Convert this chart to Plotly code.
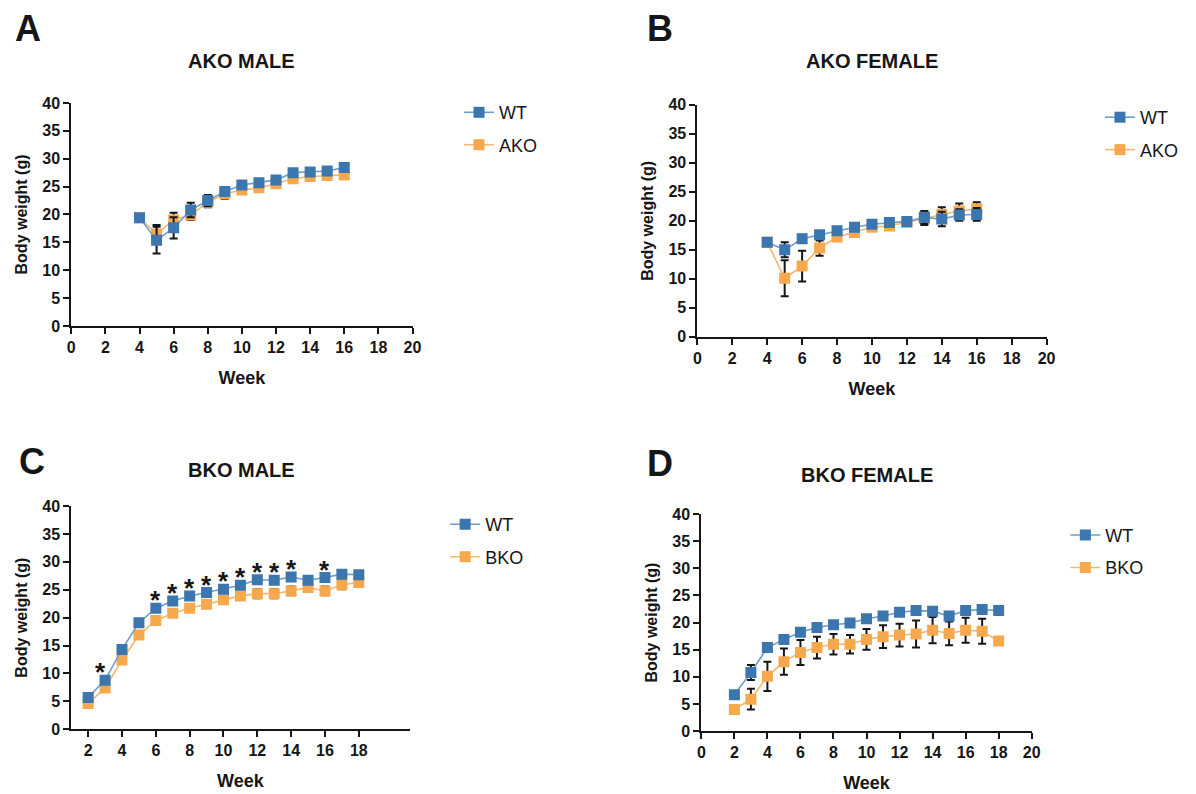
import plotly.graph_objects as go

W, H = 1196, 794

# ---------------- data ----------------
weeks_A = [4, 5, 6, 7, 8, 9, 10, 11, 12, 13, 14, 15, 16]
ako_male_wt = [19.4, 15.4, 17.6, 20.8, 22.5, 24.1, 25.3, 25.7, 26.2, 27.5, 27.6, 27.8, 28.4]
ako_male_wt_err = [0.0, 2.4, 1.9, 1.3, 1.0, 0.4, 0.3, 0.3, 0.3, 0.3, 0.3, 0.3, 0.3]
ako_male_ko = [19.4, 16.5, 19.0, 19.9, 22.2, 23.7, 24.4, 24.8, 25.5, 26.4, 26.8, 27.0, 27.1]
ako_male_ko_err = [0.0, 1.6, 1.3, 0.9, 0.9, 0.9, 0.6, 0.3, 0.3, 0.3, 0.3, 0.3, 0.3]

weeks_B = [4, 5, 6, 7, 8, 9, 10, 11, 12, 13, 14, 15, 16]
ako_fem_wt = [16.3, 15.0, 16.9, 17.6, 18.3, 18.9, 19.4, 19.7, 19.9, 20.6, 20.3, 21.0, 21.1]
ako_fem_wt_err = [0.0, 1.3, 0.7, 0.5, 0.4, 0.4, 0.4, 0.4, 0.7, 1.1, 1.25, 1.0, 1.1]
ako_fem_ko = [16.3, 10.1, 12.2, 15.3, 17.2, 18.0, 18.9, 19.1, 19.7, 20.4, 21.1, 21.7, 22.1]
ako_fem_ko_err = [0.0, 3.1, 2.65, 1.3, 0.5, 0.4, 0.4, 0.4, 0.7, 1.1, 1.25, 1.3, 1.1]

weeks_C = [2, 3, 4, 5, 6, 7, 8, 9, 10, 11, 12, 13, 14, 15, 16, 17, 18]
bko_male_wt = [5.7, 8.8, 14.3, 19.1, 21.7, 23.0, 23.9, 24.5, 25.1, 25.8, 26.8, 26.7, 27.3, 26.7, 27.2, 27.8, 27.7]
bko_male_wt_err = [0.3, 0.4, 0.4, 0.5, 0.4, 0.4, 0.4, 0.4, 0.4, 0.4, 0.4, 0.4, 0.4, 0.4, 0.4, 0.4, 0.4]
bko_male_ko = [4.6, 7.4, 12.4, 16.9, 19.5, 20.8, 21.7, 22.4, 23.2, 23.9, 24.3, 24.3, 24.8, 25.4, 24.8, 25.9, 26.3]
bko_male_ko_err = [0.3, 0.4, 0.4, 0.6, 0.4, 0.4, 0.5, 0.6, 0.6, 0.6, 0.8, 0.8, 0.8, 0.4, 0.8, 0.8, 0.4]
sig_weeks_C = [3, 6, 7, 8, 9, 10, 11, 12, 13, 14, 16]

weeks_D = [2, 3, 4, 5, 6, 7, 8, 9, 10, 11, 12, 13, 14, 15, 16, 17, 18]
bko_fem_wt = [6.7, 10.8, 15.4, 16.9, 18.2, 19.1, 19.6, 19.9, 20.7, 21.2, 21.9, 22.2, 22.1, 21.2, 22.2, 22.4, 22.2]
bko_fem_wt_err = [0.3, 1.4, 0.4, 0.3, 0.3, 0.3, 0.3, 0.3, 0.3, 0.3, 0.3, 0.3, 0.3, 0.3, 0.3, 0.3, 0.0]
bko_fem_ko = [4.0, 5.9, 10.1, 12.8, 14.5, 15.4, 16.0, 16.0, 16.9, 17.4, 17.7, 17.9, 18.6, 18.0, 18.6, 18.4, 16.6]
bko_fem_ko_err = [0.8, 1.9, 2.7, 2.4, 2.3, 2.0, 1.9, 1.7, 1.9, 2.1, 2.1, 2.5, 2.4, 2.2, 2.3, 2.3, 0.0]

panel_titles = ["AKO MALE", "AKO FEMALE", "BKO MALE", "BKO FEMALE"]
panel_letters = ["A", "B", "C", "D"]

# ---------------- style ----------------
FONT = "Liberation Sans, Arial, Helvetica, sans-serif"
INK = "#161616"
BLUE_M, BLUE_L = "#3b76af", "#6f9dcb"
ORNG_M, ORNG_L = "#f5a94c", "#f6b771"


def px_x(p):
    return p / W


def px_y(p):
    return 1 - p / H


fig = go.Figure()

panels = [
    ("", weeks_A, ako_male_wt, ako_male_wt_err, ako_male_ko, ako_male_ko_err, "AKO", "legend"),
    ("2", weeks_B, ako_fem_wt, ako_fem_wt_err, ako_fem_ko, ako_fem_ko_err, "AKO", "legend2"),
    ("3", weeks_C, bko_male_wt, bko_male_wt_err, bko_male_ko, bko_male_ko_err, "BKO", "legend3"),
    ("4", weeks_D, bko_fem_wt, bko_fem_wt_err, bko_fem_ko, bko_fem_ko_err, "BKO", "legend4"),
]

for i, (s, wk, wt, wte, ko, koe, kname, lg) in enumerate(panels):
    err_style = dict(type="data", color=INK, thickness=2, width=4)
    fig.add_trace(go.Scatter(
        x=wk, y=ko, name=kname, mode="lines+markers",
        xaxis="x" + s, yaxis="y" + s, legend=lg, legendgroup=f"ko{i}", legendrank=2,
        line=dict(color=ORNG_L, width=1.6),
        marker=dict(symbol="square", size=11, color=ORNG_M),
        error_y=dict(array=koe, **err_style),
    ))
    fig.add_trace(go.Scatter(
        x=wk, y=wt, name="WT", mode="lines+markers",
        xaxis="x" + s, yaxis="y" + s, legend=lg, legendgroup=f"wt{i}", legendrank=1,
        line=dict(color=BLUE_L, width=1.6),
        marker=dict(symbol="square", size=11, color=BLUE_M),
        error_y=dict(array=wte, **err_style),
    ))

# ---------------- axes ----------------
tickfont = dict(family=FONT, size=16, color=INK, weight="bold")
common = dict(showline=True, linewidth=2, linecolor=INK, ticks="outside", ticklen=6,
              tickwidth=2, tickcolor=INK, tickfont=tickfont, showgrid=False,
              zeroline=False, fixedrange=True)

boxes = [(68, 413, 97, 325), (701, 1054, 99, 336), (68, 410, 509, 737), (705, 1039, 517, 739)]
xranges = [[0, 20], [0, 20], [1, 21], [0, 20]]
xticks = [list(range(0, 21, 2)), list(range(0, 21, 2)), list(range(2, 19, 2)), list(range(0, 21, 2))]

for i, (l, r, t, b) in enumerate(boxes):
    s = "" if i == 0 else str(i + 1)
    fig.update_layout(**{
        "xaxis" + s: dict(common, domain=[px_x(l), px_x(r)], range=xranges[i],
                          tickvals=xticks[i], anchor="y" + s,
                          title=dict(text="Week", font=dict(family=FONT, size=18, color=INK, weight="bold"), standoff=16)),
        "yaxis" + s: dict(common, domain=[px_y(b), px_y(t)], range=[0, 40], dtick=5,
                          anchor="x" + s,
                          title=dict(text="Body weight (g)", font=dict(family=FONT, size=16, color=INK, weight="bold"), standoff=11)),
    })

# ---------------- legends ----------------
leg_pos = [(460, 88), (1108, 93), (446, 509), (1073, 520)]
for i, (lx, ly) in enumerate(leg_pos):
    name = "legend" if i == 0 else f"legend{i + 1}"
    fig.update_layout(**{name: dict(
        x=px_x(lx), y=px_y(ly), xanchor="left", yanchor="top",
        font=dict(family=FONT, size=18, color=INK), bgcolor="rgba(0,0,0,0)",
        traceorder="grouped", tracegroupgap=6, itemwidth=30,
    )})

# ---------------- annotations ----------------
annotations = []
title_pos = [(240, 54), (878, 54), (240, 472), (872, 477)]
letter_pos = [(24, 21), (663, 21), (28, 463), (663, 465)]
for i in range(4):
    tx, ty = title_pos[i]
    annotations.append(dict(text=panel_titles[i], x=px_x(tx), y=px_y(ty), xref="paper", yref="paper",
                            showarrow=False, xanchor="center", yanchor="middle",
                            font=dict(family=FONT, size=20, color=INK, weight="bold")))
    lx, ly = letter_pos[i]
    annotations.append(dict(text=panel_letters[i], x=px_x(lx), y=px_y(ly), xref="paper", yref="paper",
                            showarrow=False, xanchor="center", yanchor="middle",
                            font=dict(family=FONT, size=36, color=INK, weight="bold")))

for wkk in sig_weeks_C:
    yv = bko_male_wt[weeks_C.index(wkk)]
    annotations.append(dict(text="*", x=wkk - (0.3 if wkk == 3 else 0), y=yv, xref="x3", yref="y3",
                            showarrow=False, xanchor="center", yanchor="middle", yshift=8,
                            font=dict(family=FONT, size=26, color=INK, weight="bold")))

fig.update_layout(
    width=W, height=H, margin=dict(l=0, r=0, t=0, b=0),
    paper_bgcolor="white", plot_bgcolor="white",
    annotations=annotations, showlegend=True,
)

fig.write_html("out.html")
